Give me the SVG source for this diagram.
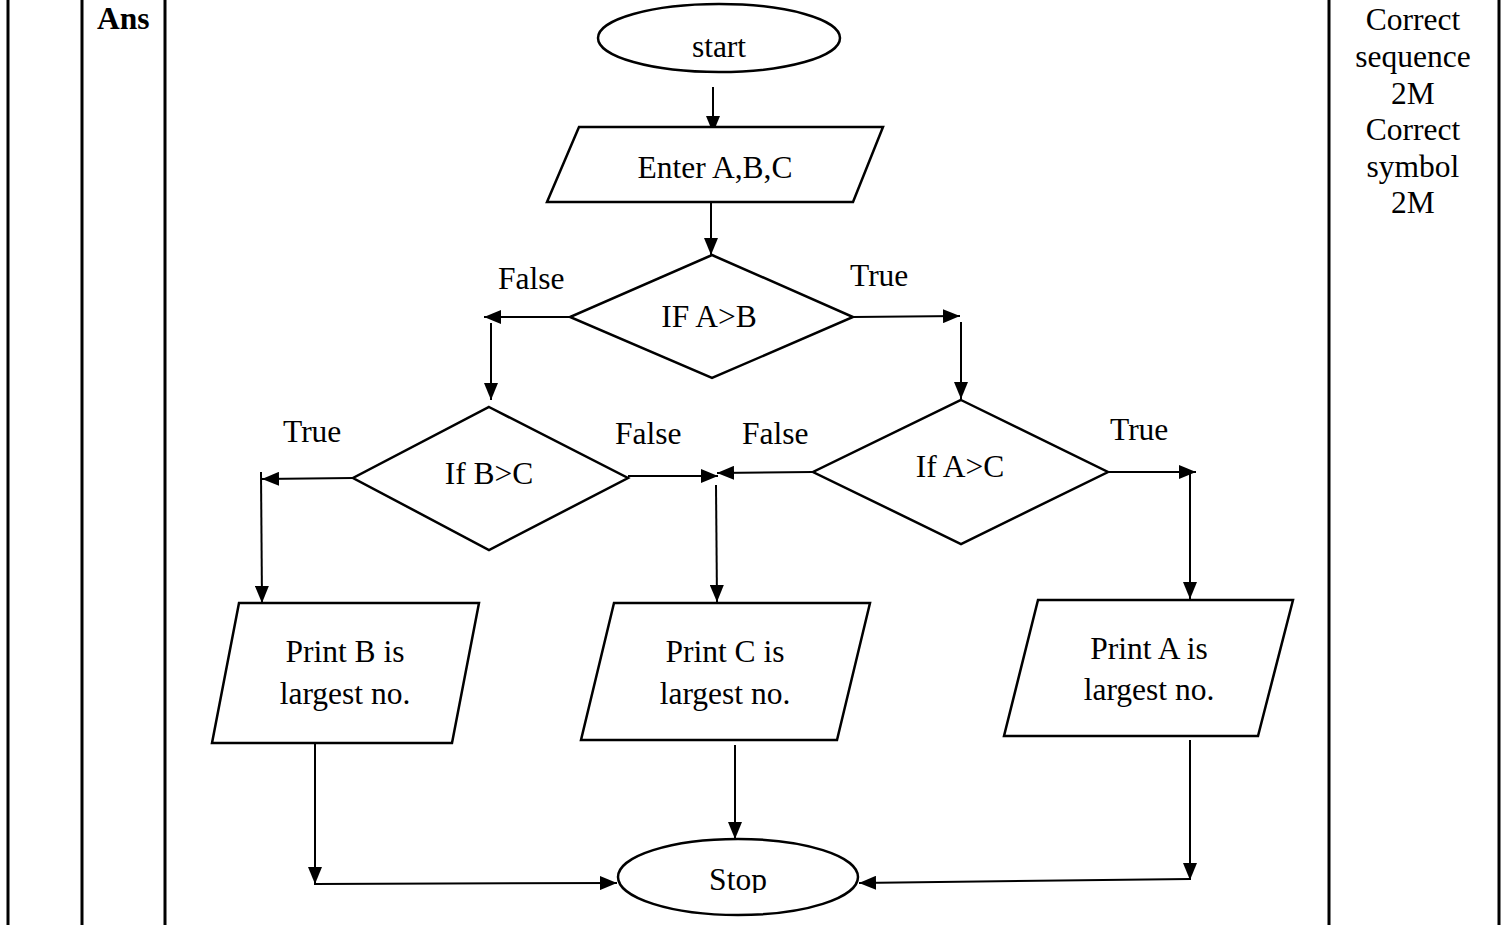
<svg xmlns="http://www.w3.org/2000/svg" width="1503" height="925" viewBox="0 0 1503 925">
<style>
.t{font-family:"Liberation Serif","Times New Roman",serif;font-size:31.5px;fill:#000}
.c{text-anchor:middle}
.s{fill:#fff;stroke:#000;stroke-width:2.5}
.ln{stroke:#000;stroke-width:2;fill:none}
.tb{stroke:#000;stroke-width:3}
</style>
<defs>
<marker id="ah" viewBox="0 0 10 10" refX="10" refY="5" markerWidth="17" markerHeight="14" markerUnits="userSpaceOnUse" orient="auto" preserveAspectRatio="none">
<path d="M0,0 L10,5 L0,10 z" fill="#000"/>
</marker>
<clipPath id="stopclip"><rect x="600" y="840" width="280" height="53"/></clipPath>
</defs>
<rect width="1503" height="925" fill="#fff"/>
<g id="table">
<line class="tb" x1="8" y1="0" x2="8" y2="925"/>
<line class="tb" x1="82" y1="0" x2="82" y2="925"/>
<line class="tb" x1="165" y1="0" x2="165" y2="925"/>
<line class="tb" x1="1329" y1="0" x2="1329" y2="925"/>
<line class="tb" x1="1499" y1="0" x2="1499" y2="925"/>
<text class="t" x="97" y="29" font-weight="bold">Ans</text>
<text class="t c" x="1413" y="30">Correct</text>
<text class="t c" x="1413" y="67">sequence</text>
<text class="t c" x="1413" y="104">2M</text>
<text class="t c" x="1413" y="140">Correct</text>
<text class="t c" x="1413" y="177">symbol</text>
<text class="t c" x="1413" y="213">2M</text>
</g>
<g id="connectors">
<line class="ln" x1="713" y1="87" x2="713" y2="133" marker-end="url(#ah)"/>
<line class="ln" x1="711" y1="202" x2="711" y2="255" marker-end="url(#ah)"/>
<line class="ln" x1="570" y1="317" x2="484" y2="317" marker-end="url(#ah)"/>
<line class="ln" x1="491" y1="323" x2="491" y2="400" marker-end="url(#ah)"/>
<line class="ln" x1="853" y1="317" x2="960" y2="316" marker-end="url(#ah)"/>
<line class="ln" x1="961" y1="322" x2="961" y2="399" marker-end="url(#ah)"/>
<line class="ln" x1="353" y1="478" x2="262" y2="479" marker-end="url(#ah)"/>
<line class="ln" x1="261" y1="472" x2="262" y2="603" marker-end="url(#ah)"/>
<line class="ln" x1="628" y1="476" x2="718" y2="476" marker-end="url(#ah)"/>
<line class="ln" x1="813" y1="472" x2="717" y2="473" marker-end="url(#ah)"/>
<line class="ln" x1="716" y1="485" x2="717" y2="602" marker-end="url(#ah)"/>
<line class="ln" x1="1108" y1="472" x2="1196" y2="472" marker-end="url(#ah)"/>
<line class="ln" x1="1190" y1="474" x2="1190" y2="599" marker-end="url(#ah)"/>
<line class="ln" x1="315" y1="738" x2="315" y2="884" marker-end="url(#ah)"/>
<line class="ln" x1="314" y1="884" x2="617" y2="883" marker-end="url(#ah)"/>
<line class="ln" x1="735" y1="745" x2="735" y2="839" marker-end="url(#ah)"/>
<line class="ln" x1="1190" y1="740" x2="1190" y2="880" marker-end="url(#ah)"/>
<line class="ln" x1="1190" y1="879" x2="859" y2="883" marker-end="url(#ah)"/>
<text class="t" x="498" y="289">False</text>
<text class="t" x="850" y="286">True</text>
<text class="t" x="283" y="442">True</text>
<text class="t" x="615" y="444">False</text>
<text class="t" x="742" y="444">False</text>
<text class="t" x="1110" y="440">True</text>
</g>
<g id="start">
<ellipse class="s" cx="719" cy="38" rx="121" ry="34"/>
<text class="t c" x="719" y="57">start</text>
</g>
<g id="input">
<polygon class="s" points="579,127 883,127 853,202 547,202"/>
<text class="t c" x="715" y="178">Enter A,B,C</text>
</g>
<g id="ifAB">
<polygon class="s" points="712,255 853,317 712,378 570,317"/>
<text class="t c" x="709" y="327">IF A&gt;B</text>
</g>
<g id="ifBC">
<polygon class="s" points="489,407 628,478 489,550 353,478"/>
<text class="t c" x="489" y="484">If B&gt;C</text>
</g>
<g id="ifAC">
<polygon class="s" points="961,400 1108,472 961,544 813,472"/>
<text class="t c" x="960" y="477">If A&gt;C</text>
</g>
<g id="printB">
<polygon class="s" points="239,603 479,603 452,743 212,743"/>
<text class="t c" x="345" y="662">Print B is</text>
<text class="t c" x="345" y="704">largest no.</text>
</g>
<g id="printC">
<polygon class="s" points="614,603 870,603 837,740 581,740"/>
<text class="t c" x="725" y="662">Print C is</text>
<text class="t c" x="725" y="704">largest no.</text>
</g>
<g id="printA">
<polygon class="s" points="1038,600 1293,600 1258,736 1004,736"/>
<text class="t c" x="1149" y="659">Print A is</text>
<text class="t c" x="1149" y="700">largest no.</text>
</g>
<g id="stop">
<ellipse class="s" cx="738" cy="877" rx="120" ry="38"/>
<text class="t c" x="738" y="890" clip-path="url(#stopclip)" font-size="27">Stop</text>
</g>
</svg>
